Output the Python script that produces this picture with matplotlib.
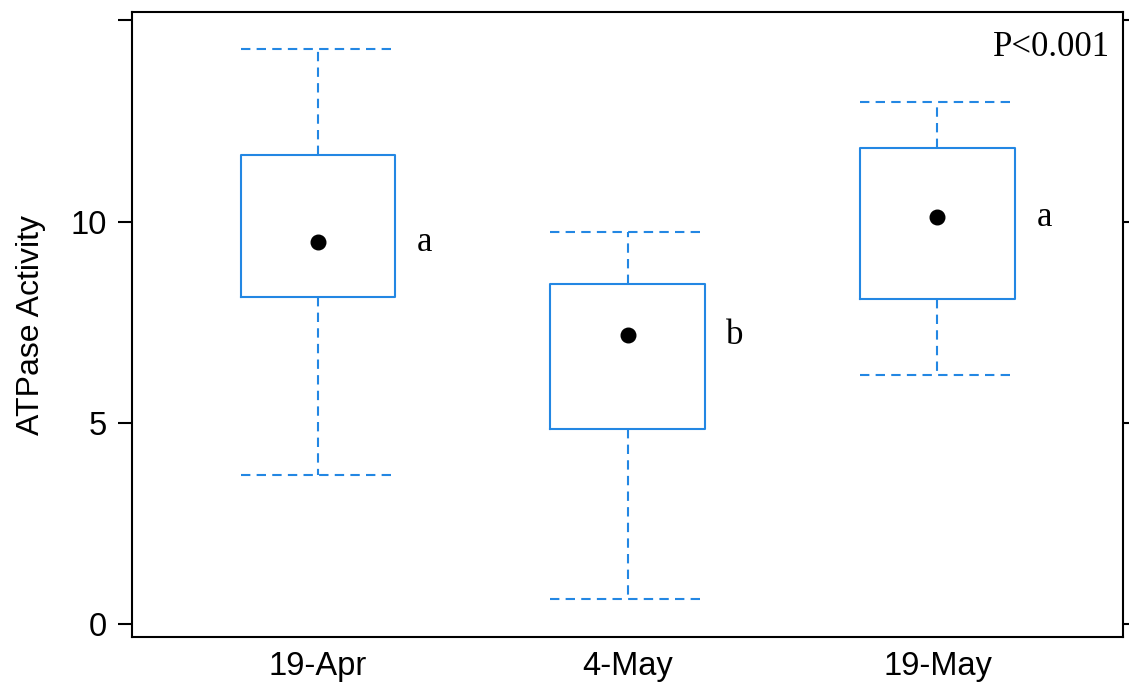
import matplotlib
matplotlib.use('Agg')
import matplotlib.pyplot as plt

# Data
dates = ['19-Apr', '4-May', '19-May']
q1 = [8.13, 4.84, 8.07]
q3 = [11.65, 8.44, 11.82]
means = [9.49, 7.18, 10.11]
whis_lo = [3.70, 0.62, 6.18]
whis_hi = [14.28, 9.73, 12.96]
groups = ['a', 'b', 'a']
p_text = 'P<0.001'

blue = '#2387e3'

fig = plt.figure(figsize=(11.29, 6.82), dpi=100)
ax = fig.add_axes([0.117, 0.066, 0.878, 0.916])

stats = []
for i, d in enumerate(dates):
    stats.append(dict(label=d, q1=q1[i], q3=q3[i], med=means[i], mean=means[i],
                      whislo=whis_lo[i], whishi=whis_hi[i], fliers=[]))

dash = (0, (4.5, 3))
ax.bxp(stats, positions=[1, 2, 3], widths=0.5, capwidths=0.5,
       showmeans=True, showfliers=False,
       boxprops=dict(color=blue, linewidth=1.5),
       whiskerprops=dict(color=blue, linewidth=1.5, linestyle=dash),
       capprops=dict(color=blue, linewidth=1.5, linestyle=dash),
       medianprops=dict(linewidth=0),
       meanprops=dict(marker='o', markerfacecolor='black',
                      markeredgecolor='black', markersize=10.5))

# group letters
for i, g in enumerate(groups):
    ax.text(i + 1 + 0.345, means[i], g, family='Liberation Serif', fontsize=25,
            ha='center', va='center')

ax.text(0.987, 0.944, p_text, transform=ax.transAxes, family='Liberation Serif',
        fontsize=25, ha='right', va='center')

ax.set_xlim(0.4, 3.6)
ax.set_ylim(-0.32, 15.2)
ax.set_yticks([0, 5, 10, 15])
ax.set_yticklabels(['0', '5', '10', ''])
ax.set_xticks([1, 2, 3])
ax.set_xticklabels(dates)
ax.set_ylabel('ATPase Activity', family='Liberation Sans', fontsize=23, labelpad=18)

for lab in ax.get_xticklabels() + ax.get_yticklabels():
    lab.set_family('Liberation Sans')
    lab.set_fontsize(23.5)

ax.tick_params(axis='y', direction='out', length=10, width=1.5, right=True, pad=8)
ax.tick_params(axis='x', length=0, pad=10)
for s in ax.spines.values():
    s.set_linewidth(1.5)

fig.savefig('out.png', dpi=100)
